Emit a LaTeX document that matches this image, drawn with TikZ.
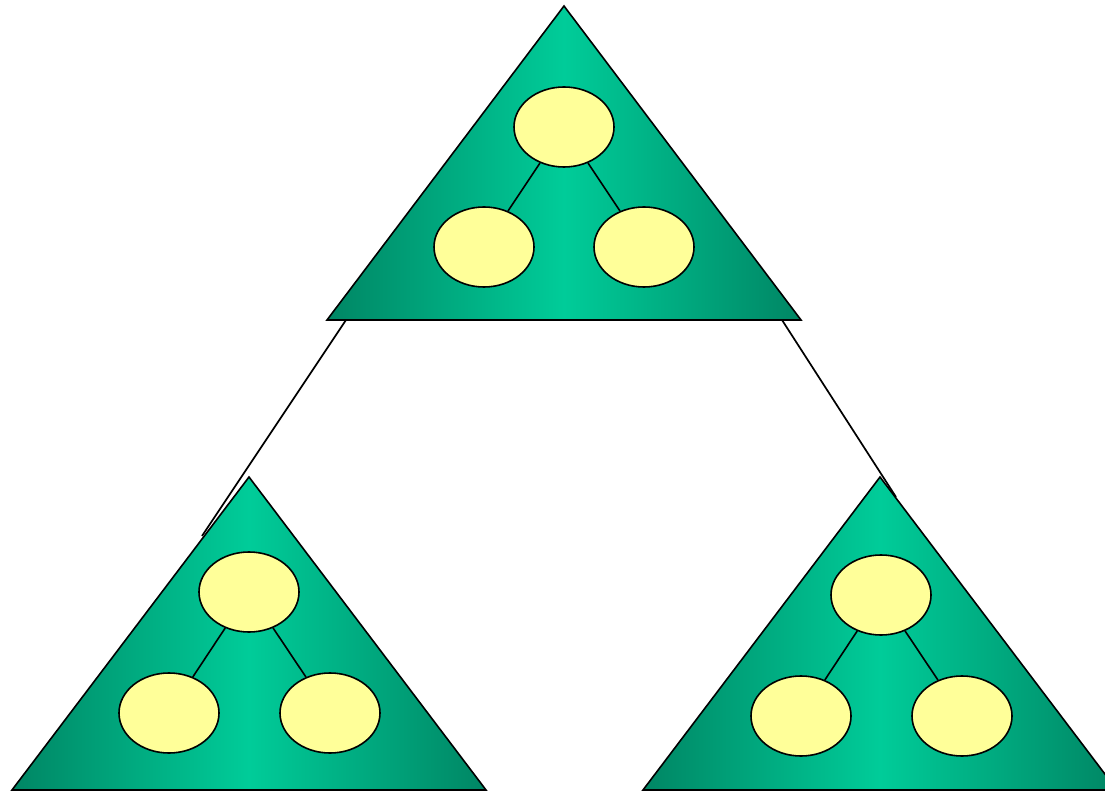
\documentclass[tikz,border=0pt]{standalone}
\usetikzlibrary{shapes.geometric}
\definecolor{tdark}{RGB}{0,134,100}
\definecolor{tlight}{RGB}{0,204,153}
\definecolor{nodefill}{RGB}{255,255,153}
\tikzset{
  tri/.style={draw=black, line width=1.6pt, line join=miter, left color=tdark, right color=tdark, middle color=tlight},
  leaf/.style={ellipse, draw=black, line width=1.6pt, fill=nodefill, minimum width=100pt, minimum height=80pt, inner sep=0pt},
  edge/.style={draw=black, line width=1.6pt},
  link/.style={draw=black, line width=1.7pt}
}
\begin{document}
\begin{tikzpicture}[x=1pt,y=-1pt]
\useasboundingbox (0,0) rectangle (1105,791);
\clip (0,0) rectangle (1105,791);
% triangles
\coordinate (TA) at (564,6);
\coordinate (TL) at (327,320);
\coordinate (TR) at (801,320);
\coordinate (LA) at (249,477);
\coordinate (LL) at (12,790);
\coordinate (LR) at (486,790);
\coordinate (RA) at (880,477);
\coordinate (RL) at (643,790);
\coordinate (RR) at (1117,790);
\path[tri] (TA) -- (TL) -- (TR) -- cycle;
\path[tri] (LA) -- (LL) -- (LR) -- cycle;
\path[tri] (RA) -- (RL) -- (RR) -- cycle;
% links between triangles
\coordinate (k1a) at (346,320);
\coordinate (k1b) at (202,536);
\coordinate (k2a) at (782,320);
\coordinate (k2b) at (896,497);
\draw[link] (k1a) -- (k1b);
\draw[link] (k2a) -- (k2b);
% top tree
\node[leaf] (t0) at (564,127) {};
\node[leaf] (t1) at (484,247) {};
\node[leaf] (t2) at (644,247) {};
\draw[edge] (t0) -- (t1);
\draw[edge] (t0) -- (t2);
% left tree
\node[leaf] (l0) at (249,592) {};
\node[leaf] (l1) at (169,713) {};
\node[leaf] (l2) at (330,713) {};
\draw[edge] (l0) -- (l1);
\draw[edge] (l0) -- (l2);
% right tree
\node[leaf] (r0) at (881,595) {};
\node[leaf] (r1) at (801,716) {};
\node[leaf] (r2) at (962,716) {};
\draw[edge] (r0) -- (r1);
\draw[edge] (r0) -- (r2);
\end{tikzpicture}
\end{document}
